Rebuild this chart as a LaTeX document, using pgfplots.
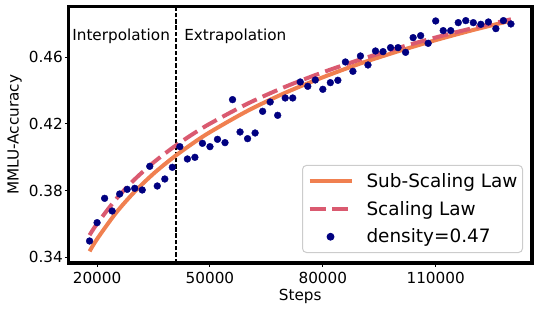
\documentclass[border=0pt]{standalone}
\usepackage{pgfplots}
\pgfplotsset{compat=1.18}
\usepackage{fontspec}
\setmainfont{DejaVu Sans}
\definecolor{subc}{RGB}{240,128,80}
\definecolor{scalc}{RGB}{218,90,112}
\definecolor{dotc}{RGB}{0,0,128}
\newcommand{\tickfont}{\fontsize{15.3}{18}\selectfont}
\newcommand{\legfont}{\fontsize{18.5}{22}\selectfont}
\begin{document}
\begin{tikzpicture}
\begin{axis}[
  scale only axis, width=463.5bp, height=256.7bp,
  xmin=12400, xmax=135600, ymin=0.3366, ymax=0.4906,
  scaled ticks=false,
  xtick={20000,50000,80000,110000}, xticklabels={20000,50000,80000,110000},
  ytick={0.34,0.38,0.42,0.46}, yticklabels={0.34,0.38,0.42,0.46},
  tick pos=left, tick align=outside, major tick length=3.5bp,
  every tick/.style={black, line width=1bp},
  axis line style={line width=3.2bp},
  tick label style={font=\tickfont},
  xticklabel style={inner sep=2bp, yshift=-3bp},
  yticklabel style={inner sep=2bp},
  label style={font=\tickfont},
  xlabel={Steps}, ylabel={MMLU-Accuracy},
  xlabel style={at={(axis description cs:0.5,0)}, anchor=base, yshift=-37bp},
  ylabel style={yshift=1.5bp},
  legend image code/.code={\draw[mark repeat=2,mark phase=2,#1] plot coordinates {(0bp,0bp) (21bp,0bp) (42bp,0bp)};},
  legend cell align=left,
  legend style={at={(1,0)}, anchor=south east, xshift=-9bp, yshift=10bp,
    font=\legfont, draw={rgb,255:red,204;green,204;blue,204}, line width=1bp,
    rounded corners=4bp, fill=white,
    inner xsep=5bp, inner ysep=1.85bp,
    nodes={inner sep=0bp, text height=19.95bp, text depth=7.85bp},
    /tikz/every odd column/.append style={column sep=13bp}},
]
\addplot[only marks, mark=*, mark size=3.4bp, dotc, forget plot] coordinates {
(18000,0.3498) (20000,0.3608) (22000,0.3754) (24000,0.3678) (26000,0.3780)
(28000,0.3808) (30000,0.3814) (32000,0.3804) (34000,0.3946) (36000,0.3828)
(38000,0.3870) (40000,0.3940) (42000,0.4064) (44000,0.3990) (46000,0.4000)
(48000,0.4084) (50000,0.4064) (52000,0.4108) (54000,0.4088) (56000,0.4346)
(58000,0.4152) (60000,0.4112) (62000,0.4146) (64000,0.4276) (66000,0.4332)
(68000,0.4252) (70000,0.4356) (72000,0.4356) (74000,0.4452) (76000,0.4426)
(78000,0.4464) (80000,0.4408) (82000,0.4448) (84000,0.4462) (86000,0.4572)
(88000,0.4516) (90000,0.4608) (92000,0.4554) (94000,0.4638) (96000,0.4634)
(98000,0.4658) (100000,0.4658) (102000,0.4630) (104000,0.4718) (106000,0.4730)
(108000,0.4684) (110000,0.4818) (112000,0.4760) (114000,0.4760) (116000,0.4808)
(118000,0.4820) (120000,0.4808) (122000,0.4798) (124000,0.4812) (126000,0.4772)
(128000,0.4820) (130000,0.4800)
};
\addplot[black, line width=1.2bp, dash pattern=on 4.4bp off 1.9bp, forget plot] coordinates {(41000,0.3366) (41000,0.4906)};
\addplot[subc, line width=4bp, smooth] coordinates {
(18000,0.3436) (20000,0.3510) (25000,0.3666) (30000,0.3794) (35000,0.3902)
(40000,0.3995) (45000,0.4077) (50000,0.4151) (60000,0.4279) (70000,0.4387)
(80000,0.4480) (90000,0.4563) (100000,0.4636) (110000,0.4703) (120000,0.4764)
(130000,0.4820)
};
\addlegendentry{Sub-Scaling Law}
\addplot[scalc, line width=4bp, dash pattern=on 16bp off 6.5bp, smooth] coordinates {
(18000,0.3533) (20000,0.3602) (25000,0.3748) (30000,0.3868) (35000,0.3969)
(40000,0.4056) (45000,0.4133) (50000,0.4202) (60000,0.4322) (70000,0.4423)
(80000,0.4510) (90000,0.4587) (100000,0.4656) (110000,0.4719) (120000,0.4776)
(130000,0.4828)
};
\addlegendentry{Scaling Law}
\addlegendimage{only marks, mark=*, mark size=3.4bp, dotc}
\addlegendentry{density=0.47}
\node[font=\tickfont, anchor=base east, inner sep=0bp, xshift=-6bp] at (axis cs:41000,0.47) {Interpolation};
\node[font=\tickfont, anchor=base west, inner sep=0bp, xshift=8bp] at (axis cs:41000,0.47) {Extrapolation};
\end{axis}
\pgfresetboundingbox
\path (-68.5bp,-49bp) rectangle (471.5bp,263bp);
\end{tikzpicture}
\end{document}
